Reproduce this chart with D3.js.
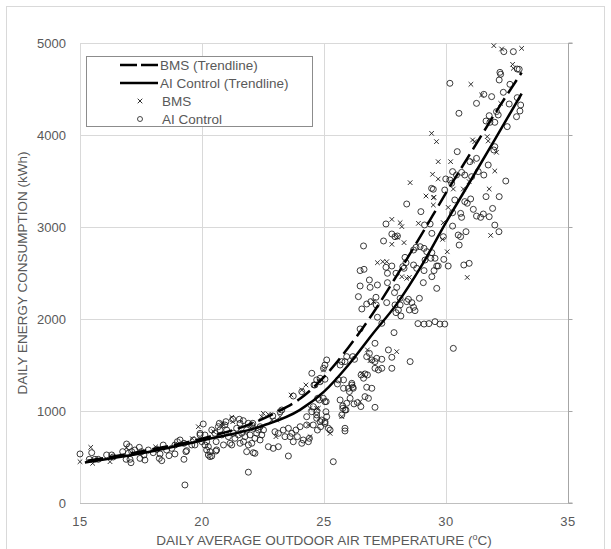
<!DOCTYPE html>
<html>
<head>
<meta charset="utf-8">
<script src="https://cdn.jsdelivr.net/npm/d3@7"></script>
<style>
  body { margin: 0; background: #fff; }
  svg { font-family: "Liberation Sans", Arial, sans-serif; }
</style>
</head>
<body>
<div id="chart"></div>
<script>
// temperature (°C), daily energy (kWh)
const bmsPoints = [
  [15.0,449],[15.44,605],[15.52,431],[16.23,449],[16.9,600],[18.1,610],[19.6,700],
  [19.85,829],[20.47,776],[20.81,866],[20.88,848],[21.22,932],[21.26,884],[22.51,975],
  [22.72,964],[22.86,902],[23.06,902],[23.2,938],[22.45,938],[24.26,1283],[24.09,1228],
  [23.65,1174],[24.43,1029],[24.7,1029],[23.03,721],[24.43,721],[24.36,848],[25.25,757],
  [26.78,1664],[26.89,1548],[27.98,1645],[24.98,1446],[24.81,1319],[26.55,1410],[26.48,1102],
  [25.73,939],[24.77,1030],[27.03,2189],[28.53,3482],[29.18,3337],[29.51,3323],[29.48,3239],
  [27.78,3083],[28.12,3047],[28.19,3004],[28.28,2830],[28.01,2888],[27.78,2812],[28.87,3040],
  [27.19,2612],[27.41,2623],[27.57,2623],[28.19,2460],[28.39,2442],[28.5,2453],[30.09,3213],
  [29.89,3047],[29.86,2866],[31.83,2909],[30.05,2731],[30.87,2452],[31.96,4971],[32.28,4935],
  [33.1,4942],[32.73,4768],[32.76,4725],[31.02,4551],[31.46,4435],[32.24,4344],[31.09,3946],
  [31.18,3928],[31.69,3982],[31.73,3935],[32.07,3812],[29.41,4018],[29.61,3928],[31.09,3718],
  [29.68,3710],[30.19,3710],[32.0,3609],[29.68,3522],[29.45,3573],[30.3,3413],[30.71,3413],
  [30.95,3493],[31.77,3413],[29.48,3319]
];

const aiPoints = [
  [15.0,533],[15.48,547],[15.38,475],[15.61,475],[15.75,475],[16.09,522],[16.3,522],[16.36,500],
  [16.75,558],[16.91,641],[17.02,612],[16.98,540],[17.12,558],[17.05,475],[16.89,475],[17.09,438],
  [17.25,576],[17.43,605],[17.52,558],[17.46,485],[17.66,467],[17.62,522],[17.8,576],[18.0,547],
  [18.14,583],[18.25,485],[18.35,460],[18.28,533],[18.41,630],[18.55,576],[18.65,515],[18.76,594],
  [18.89,630],[18.99,666],[19.1,685],[19.26,649],[19.34,558],[19.26,475],[18.89,533],[19.37,569],
  [19.3,196],[19.92,757],[20.05,859],[20.12,739],[20.19,666],[20.26,612],[20.33,558],[20.4,511],
  [20.57,565],[20.71,866],[20.98,884],[21.26,910],[21.56,866],[22.08,866],[22.38,829],[21.9,335],
  [21.83,558],[22.1,547],[22.17,540],
  [19.58,631],[19.65,685],[19.71,631],[19.92,740],[19.99,667],[20.12,631],[20.19,577],[20.26,522],
  [20.33,504],[20.4,794],[20.53,758],[20.58,667],[20.6,577],[20.67,830],[20.74,794],[20.81,740],
  [20.88,631],[20.94,848],[21.01,794],[21.08,721],[21.15,649],[21.22,631],[21.29,758],[21.35,703],
  [21.42,812],[21.49,740],[21.56,649],[21.63,758],[21.7,667],[21.76,721],[21.83,794],[21.9,631],
  [21.97,740],[22.04,649],[22.11,812],[22.17,703],[22.24,758],[22.31,794],[22.38,685],[22.45,740],
  [22.52,794],[21.53,910],[21.69,895],[21.9,866],[22.04,848],[22.9,946],[23.2,992],[23.27,1011],
  [22.99,775],[23.13,757],[23.33,793],[23.4,721],[23.54,812],[23.61,721],[23.68,757],[23.74,666],
  [23.85,793],[23.91,721],[24.02,829],[24.09,649],[24.29,848],[24.4,703],[24.56,848],[24.73,793],
  [24.86,829],[24.9,902],[25.04,884],[25.08,992],[22.72,612],[22.92,594],[23.13,612],[23.54,511],
  [24.15,685],[24.36,666],[24.29,938],[24.5,992],[24.56,1047],[24.7,957],[25.04,1101],[25.11,938],
  [25.25,793],[23.74,1163],[24.09,1210],[24.59,1283],[24.84,1318],[24.74,1138],[24.97,1138],
  [25.38,449],[25.86,783],[25.66,1120],[25.77,1029],[25.86,1011],[25.93,1084],[26.07,1138],
  [26.14,1283],[26.2,1247],
  [26.55,2109],[27.14,2153],[27.57,2178],[27.19,2019],[27.37,1953],[26.48,1892],[27.91,2153],
  [28.05,2098],[28.15,2033],[27.95,2069],[28.39,2189],[28.5,2098],[28.73,2091],[28.67,2127],
  [28.85,1950],[29.1,1945],[29.3,1950],[29.55,1971],[29.75,1945],[29.95,1945],[27.87,1852],
  [27.09,1736],[26.86,1627],[26.75,1591],[26.96,1555],[27.09,1537],[27.16,1573],[27.37,1562],
  [27.09,1464],[27.23,1446],[27.37,1464],[27.64,1664],[27.78,1584],[27.78,1464],[28.53,1537],
  [26.18,1591],[25.93,1591],[25.73,1537],[25.86,1537],[25.66,1500],[26.25,1562],[25.11,1555],
  [25.04,1500],[24.98,1464],[24.84,1356],[25.04,1345],[24.7,1338],[24.5,1410],[24.63,1283],
  [25.59,1338],[25.8,1338],[25.55,1294],[25.8,1247],[26.0,1247],[26.14,1301],[26.18,1258],
  [26.04,1211],[26.62,1356],[26.78,1392],[26.68,1403],[26.52,1392],[26.75,1258],[26.96,1247],
  [26.68,1156],[26.82,1138],[27.09,1040],[26.23,1077],[26.51,1048],[26.37,1091],[25.77,1055],
  [25.9,1011],[25.73,957],[25.09,1102],[24.81,1120],[24.7,993],[24.7,921],[24.84,885],[25.04,866],
  [25.86,812],[25.18,812],
  [29.48,3410],[28.39,3250],[28.97,3167],[27.54,3033],[27.44,2848],[29.35,3033],[29.42,2931],
  [29.12,3022],[27.78,2924],[27.91,2895],[28.01,2902],[26.62,2794],[26.48,2526],[26.64,2540],
  [26.86,2424],[26.48,2359],[26.89,2344],[27.19,2370],[26.41,2243],[26.75,2163],[26.92,2189],
  [27.13,2236],[27.54,2562],[27.78,2576],[27.6,2497],[27.95,2497],[28.32,2670],[28.36,2612],
  [28.23,2569],[28.28,2551],[28.67,2587],[28.8,2551],[27.6,2395],[27.98,2344],[27.89,2287],
  [28.12,2225],[28.91,2225],[28.46,2214],[28.6,2178],[28.12,2153],[28.67,2750],[28.77,2779],
  [28.94,2786],[29.1,2768],[29.21,2732],[29.42,2721],[29.38,2660],[29.14,2641],[29.55,2660],
  [29.62,2576],[29.51,2526],[29.42,2460],[29.1,2526],[29.62,2333],[29.07,2395],
  [31.12,3192],[31.25,3119],[31.42,3105],[31.53,3141],[31.77,3112],[31.91,3202],[32.0,3021],
  [32.17,2949],[30.27,3155],[30.6,3148],[30.64,3105],[30.27,3010],[29.89,2895],[30.5,2913],
  [30.6,2895],[30.82,2949],[30.54,2804],[29.91,2648],[30.09,2576],[29.68,2576],[30.73,2587],
  [30.95,2605],[30.3,1681],
  [32.37,4906],[32.76,4906],[32.92,4717],[33.0,4714],[32.21,4681],[32.24,4660],[32.18,4598],
  [30.16,4562],[32.62,4551],[32.35,4464],[31.55,4442],[31.87,4417],[31.25,4344],[32.59,4337],
  [32.92,4406],[33.06,4326],[33.03,4261],[32.89,4199],[30.53,4236],[31.77,4210],[32.07,4254],
  [32.14,4218],[32.0,4138],[31.64,4152],[31.8,4138],[32.51,4091],[32.0,3873],[31.96,3837],
  [30.46,3819],[31.25,3746],[30.98,3710],[31.73,3674],[30.27,3602],[30.64,3594],[30.43,3565],
  [30.77,3565],[31.05,3547],[31.32,3602],[31.55,3565],[32.45,3500],[29.99,3522],[30.16,3511],
  [30.23,3475],[29.41,3420],[29.95,3402],[31.64,3330],[32.18,3330],[30.36,3294],[30.77,3276],
  [31.01,3305],[30.87,3258]
];

// trendlines
const bmsTrend = [[15.3,460],[17.5,560],[20,700],[22,860],[23,980],[24,1130],[25,1370],[26,1690],
  [27,2060],[28,2480],[29,2920],[30,3370],[31,3800],[32,4230],[33.1,4680]];
const aiTrend = [[15.2,440],[17.5,540],[20,680],[22.5,840],[24,1010],[25,1210],[26,1500],[27,1840],
  [28,2170],[29,2580],[30,3050],[31,3500],[32,3950],[33.1,4450]];

const xTicks = [15, 20, 25, 30, 35];
const yTicks = [0, 1000, 2000, 3000, 4000, 5000];
const legendItems = [
  { label: 'BMS (Trendline)', kind: 'dash' },
  { label: 'AI Control (Trendline)', kind: 'solid' },
  { label: 'BMS', kind: 'cross' },
  { label: 'AI Control', kind: 'circle' }
];

const width = 611;
const height = 549;
const textColor = '#595959';
const gridColor = '#d9d9d9';
const inkColor = '#1a1a1a';

const svg = d3.select('#chart').append('svg')
  .attr('width', width)
  .attr('height', height);

svg.append('rect')
  .attr('x', 6.5).attr('y', 6.5)
  .attr('width', 598).attr('height', 548)
  .attr('fill', '#fff')
  .attr('stroke', gridColor);

const x = d3.scaleLinear().domain([15, 35]).range([80, 568]);
const y = d3.scaleLinear().domain([0, 5000]).range([503, 43]);

// grid
const grid = svg.append('g');
grid.selectAll('line.v')
  .data(xTicks.slice(0, -1))
  .join('line')
  .attr('class', 'v')
  .attr('x1', d => Math.round(x(d)) + 0.5).attr('x2', d => Math.round(x(d)) + 0.5)
  .attr('y1', y(5000)).attr('y2', y(0))
  .attr('stroke', gridColor);
grid.selectAll('line.h')
  .data(yTicks.slice(1))
  .join('line')
  .attr('class', 'h')
  .attr('x1', x(15)).attr('x2', x(35))
  .attr('y1', d => Math.round(y(d)) + 0.5).attr('y2', d => Math.round(y(d)) + 0.5)
  .attr('stroke', gridColor);

// bottom axis line
svg.append('line')
  .attr('x1', x(15)).attr('x2', x(35) + 4)
  .attr('y1', Math.round(y(0)) + 0.5).attr('y2', Math.round(y(0)) + 0.5)
  .attr('stroke', '#bfbfbf');

// right axis with outward ticks, no labels
const rightAxis = d3.axisRight(y).tickValues(yTicks).tickSize(4).tickFormat('');
const ra = svg.append('g')
  .attr('transform', `translate(${Math.round(x(35)) + 0.5},0)`)
  .call(rightAxis);
ra.select('.domain').attr('stroke', '#a6a6a6').attr('d', `M4,${y(5000)}H0V${y(0)}H4`);
ra.selectAll('.tick line').attr('stroke', '#a6a6a6');

// tick labels
svg.append('g').selectAll('text')
  .data(yTicks)
  .join('text')
  .attr('x', 66)
  .attr('y', d => y(d))
  .attr('dy', '0.35em')
  .attr('text-anchor', 'end')
  .attr('font-size', 13)
  .attr('fill', textColor)
  .text(d => d);

svg.append('g').selectAll('text')
  .data(xTicks)
  .join('text')
  .attr('x', d => x(d))
  .attr('y', 521)
  .attr('dy', '0.35em')
  .attr('text-anchor', 'middle')
  .attr('font-size', 13)
  .attr('letter-spacing', 0.6)
  .attr('fill', textColor)
  .text(d => d);

// axis titles
const xTitle = svg.append('text')
  .attr('x', (x(15) + x(35)) / 2)
  .attr('y', 540)
  .attr('dy', '0.35em')
  .attr('text-anchor', 'middle')
  .attr('font-size', 13.5)
  .attr('fill', textColor);
xTitle.append('tspan').text('DAILY AVERAGE OUTDOOR AIR TEMPERATURE (');
xTitle.append('tspan').attr('font-size', 9).attr('dy', -5).text('o');
xTitle.append('tspan').attr('dy', 5).text('C)');

svg.append('text')
  .attr('transform', `translate(22,${(y(0) + y(5000)) / 2}) rotate(-90)`)
  .attr('dy', '0.35em')
  .attr('text-anchor', 'middle')
  .attr('font-size', 13.5)
  .attr('fill', textColor)
  .text('DAILY ENERGY CONSUMPTION (kWh)');

// scatter
const crossPath = 'M-2.3,-2.3L2.3,2.3M-2.3,2.3L2.3,-2.3';
svg.append('g').selectAll('path')
  .data(bmsPoints)
  .join('path')
  .attr('transform', d => `translate(${x(d[0])},${y(d[1])})`)
  .attr('d', crossPath)
  .attr('stroke', inkColor)
  .attr('stroke-width', 0.9);

svg.append('g').selectAll('circle')
  .data(aiPoints)
  .join('circle')
  .attr('cx', d => x(d[0]))
  .attr('cy', d => y(d[1]))
  .attr('r', 3)
  .attr('fill', 'none')
  .attr('stroke', inkColor)
  .attr('stroke-width', 0.85);

// trendlines
const line = d3.line()
  .x(d => x(d[0]))
  .y(d => y(d[1]))
  .curve(d3.curveMonotoneX);

svg.append('path')
  .datum(bmsTrend)
  .attr('d', line)
  .attr('fill', 'none')
  .attr('stroke', '#000')
  .attr('stroke-width', 2.5)
  .attr('stroke-dasharray', '16,6');

svg.append('path')
  .datum(aiTrend)
  .attr('d', line)
  .attr('fill', 'none')
  .attr('stroke', '#000')
  .attr('stroke-width', 2.5);

// legend
const legend = svg.append('g');
legend.append('rect')
  .attr('x', 86.5).attr('y', 56.5)
  .attr('width', 226).attr('height', 70)
  .attr('fill', '#fff')
  .attr('stroke', '#8c8c8c');

const rows = legend.selectAll('g.row')
  .data(legendItems)
  .join('g')
  .attr('class', 'row')
  .attr('transform', (d, i) => `translate(0,${65 + i * 18})`);

rows.filter(d => d.kind === 'dash' || d.kind === 'solid')
  .append('line')
  .attr('x1', 120).attr('x2', 158)
  .attr('stroke', '#000')
  .attr('stroke-width', 2.5)
  .attr('stroke-dasharray', d => d.kind === 'dash' ? '17,4' : null);

rows.filter(d => d.kind === 'cross')
  .append('path')
  .attr('transform', 'translate(140,0)')
  .attr('d', crossPath)
  .attr('stroke', inkColor)
  .attr('stroke-width', 0.9);

rows.filter(d => d.kind === 'circle')
  .append('circle')
  .attr('cx', 140)
  .attr('r', 2.5)
  .attr('fill', 'none')
  .attr('stroke', inkColor)
  .attr('stroke-width', 0.8);

rows.append('text')
  .attr('x', d => d.kind === 'dash' || d.kind === 'solid' ? 160 : 162)
  .attr('dy', '0.35em')
  .attr('font-size', 13.5)
  .attr('fill', textColor)
  .text(d => d.label);
</script>
</body>
</html>
